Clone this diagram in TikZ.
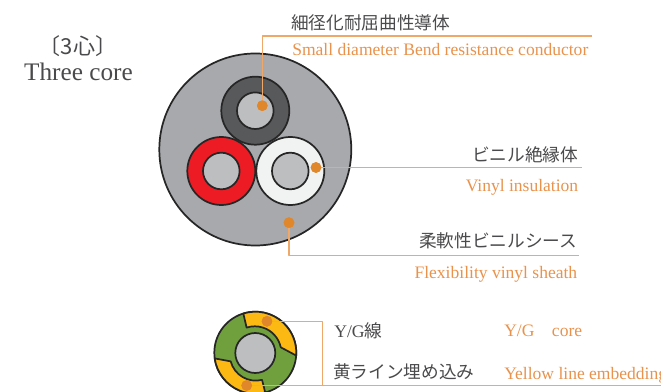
\documentclass[tikz,border=0pt]{standalone}
\usepackage{fontspec}
\setmainfont{Liberation Serif}
\newfontfamily\jpfont{Noto Sans CJK JP}
\definecolor{leadline}{HTML}{F0A868}
\definecolor{dotorange}{HTML}{E1872B}
\definecolor{labelorange}{HTML}{E8924C}
\definecolor{labelgray}{HTML}{4A4A4C}
\definecolor{sheathgray}{HTML}{A7A9AC}
\definecolor{coregray}{HTML}{BCBEC0}
\definecolor{darkjacket}{HTML}{58595B}
\definecolor{redjacket}{HTML}{ED1C24}
\definecolor{whitejacket}{HTML}{F1F2F2}
\definecolor{greenjacket}{HTML}{70A03E}
\definecolor{yellowline}{HTML}{FDB913}
\tikzset{
  wire/.style={draw=black!85,line width=1.3pt},
  tip/.style={circle,fill=dotorange,inner sep=0pt,minimum size=8pt},
  lead/.style={draw=leadline,line width=1pt},
  jp/.style={text=labelgray,font=\jpfont\fontsize{13.3}{14}\selectfont,inner sep=0pt},
  en/.style={text=labelorange,font=\fontsize{13.2}{14}\selectfont,inner sep=0pt},
}
\begin{document}
\begin{tikzpicture}[x=.75bp,y=.75bp,line join=round]
\useasboundingbox (0,0) rectangle (661,392);
\clip (0,0) rectangle (661,392);
% upper cable
\filldraw[wire,fill=sheathgray] (255.3,242.5) circle (96);
\foreach \cx/\cy/\col in {255.3/281.3/darkjacket,221.3/221/redjacket,290.3/221/whitejacket}{
  \filldraw[wire,fill=\col] (\cx,\cy) circle (34);
  \filldraw[wire,fill=coregray] (\cx,\cy) circle (18.3);
}
% lower cable
\filldraw[wire,fill=greenjacket] (255.3,39.3) circle (41);
\begin{scope}[shift={(255.3,39.3)}]
\filldraw[wire,fill=yellowline] (107:41) arc (107:-4:41) -- (12:26) arc (12:108:26.5) -- cycle;
\filldraw[wire,fill=yellowline] (188:41) arc (188:284:41) -- (284:28) arc (284:195:26) -- cycle;
\end{scope}
\filldraw[wire,fill=coregray] (255.3,39) circle (20);
% tips
\node[tip] (conductor) at (262.3,286.3) {};
\node[tip] (insulation) at (316,224.5) {};
\node[tip] (sheath) at (289,169.3) {};
\node[tip] (ygcore) at (267,70.7) {};
\node[tip] (embed) at (246.7,6.5) {};
\coordinate (c1) at (262.3,356);
\coordinate (c2) at (592,356);
\coordinate (i2) at (581.7,224.5);
\coordinate (s1) at (289,136.7);
\coordinate (s2) at (579,136.7);
\coordinate (y1) at (322.7,70.7);
\coordinate (y2) at (322.7,6.5);
\coordinate (e2) at (661,6.5);
\draw[lead] (conductor.center)--(c1)--(c2);
\draw[lead] (insulation.center)--(i2);
\draw[lead] (sheath.center)--(s1)--(s2);
\draw[lead] (ygcore.center)--(y1)--(y2);
\draw[lead] (embed.center)--(e2);
\foreach \t in {conductor,insulation,sheath,ygcore,embed}\node[tip] at (\t) {};
% labels
\node[inner sep=0pt,text=labelgray,font=\jpfont\fontsize{16.6}{18}\selectfont] (coretitle) at (78,346) {〔3心〕};
\node[inner sep=0pt,text=labelgray,font=\fontsize{19}{20}\selectfont,anchor=base] (coretitlee) at (78.5,311.5) {Three core};
\node[jp,anchor=west] (condjp) at (291,369) {細径化耐屈曲性導体};
\node[en,anchor=base west] (conden) at (292,336) {Small diameter Bend resistance conductor};
\node[jp,anchor=east] (insjp) at (578.5,237) {ビニル絶縁体};
\node[en,anchor=base east] (insen) at (578.5,200) {Vinyl insulation};
\node[jp,anchor=east] (shjp) at (577.5,151) {柔軟性ビニルシース};
\node[en,anchor=base east] (shen) at (577.5,113.5) {Flexibility vinyl sheath};
\node[jp,anchor=west] (ygjp) at (334,61) {{\rmfamily Y/G}線};
\node[en,anchor=base west] (ygen) at (504,56) {Y/G\hspace{1em}core};
\node[jp,anchor=west] (emjp) at (333,20) {黄ライン埋め込み};
\node[en,anchor=base west] (emen) at (504,12.5) {Yellow line embedding};
\end{tikzpicture}
\end{document}
